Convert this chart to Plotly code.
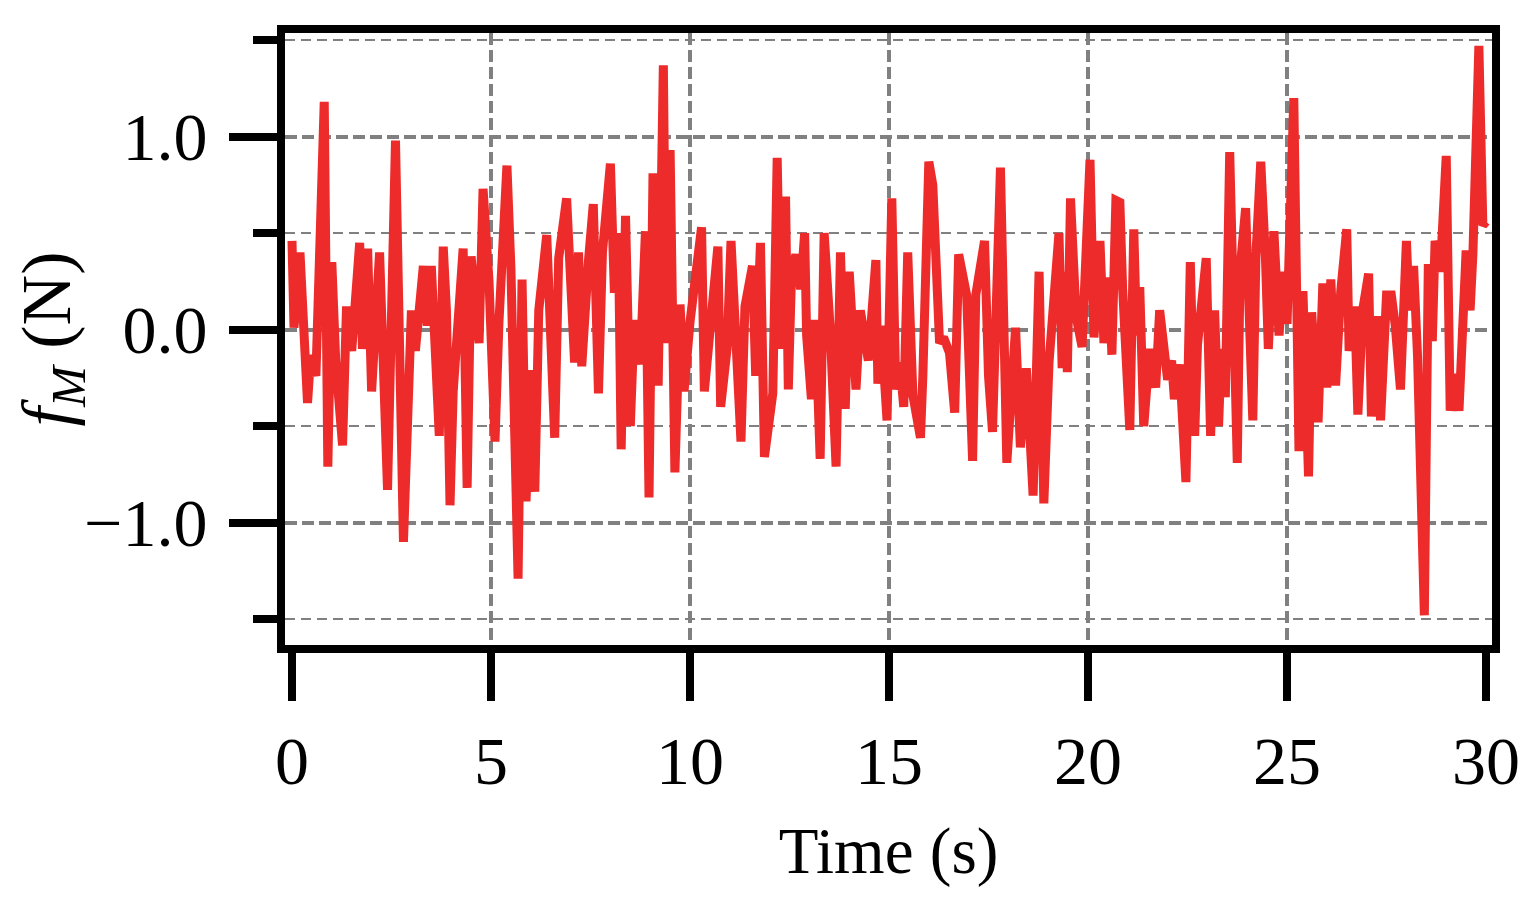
import plotly.graph_objects as go

# values (peaks / troughs and a few in-between points)
time_s = [
    0.00, 0.05, 0.20, 0.30, 0.39, 0.47, 0.60, 0.81, 0.90, 1.00, 1.10, 1.27, 1.37, 1.50, 1.70, 1.77, 1.90, 2.00, 2.20, 2.40,
    2.60, 2.80, 3.00, 3.10, 3.20, 3.30, 3.40, 3.50, 3.70, 3.80, 3.88, 3.97, 4.05, 4.30, 4.40, 4.50, 4.70, 4.80, 4.95, 5.10,
    5.20, 5.40, 5.50, 5.68, 5.78, 5.88, 6.00, 6.10, 6.20, 6.40, 6.60, 6.70, 6.90, 7.10, 7.20, 7.28, 7.45, 7.57, 7.70, 7.80,
    8.00, 8.10, 8.20, 8.27, 8.38, 8.50, 8.60, 8.75, 8.88, 8.97, 9.07, 9.20, 9.33, 9.40, 9.50, 9.62, 9.75, 9.85, 10.00, 10.29,
    10.36, 10.51, 10.70, 10.77, 10.93, 11.03, 11.28, 11.38, 11.57, 11.65, 11.77, 11.87, 12.08, 12.19, 12.28, 12.40, 12.47, 12.55, 12.66, 12.78,
    12.88, 12.93, 13.05, 13.15, 13.27, 13.37, 13.52, 13.67, 13.78, 13.90, 14.00, 14.17, 14.28, 14.48, 14.67, 14.72, 14.80, 14.95, 15.07, 15.17,
    15.27, 15.37, 15.47, 15.60, 15.79, 15.85, 16.00, 16.10, 16.20, 16.27, 16.37, 16.45, 16.52, 16.65, 16.75, 16.95, 17.10, 17.18, 17.40, 17.50,
    17.60, 17.80, 17.87, 17.96, 18.18, 18.30, 18.45, 18.62, 18.77, 18.89, 19.02, 19.10, 19.27, 19.35, 19.42, 19.48, 19.56, 19.70, 19.85, 20.05,
    20.15, 20.30, 20.40, 20.52, 20.60, 20.70, 20.80, 20.87, 21.05, 21.15, 21.22, 21.30, 21.40, 21.55, 21.70, 21.80, 22.00, 22.10, 22.17, 22.30,
    22.46, 22.57, 22.68, 22.75, 22.97, 23.08, 23.18, 23.28, 23.35, 23.45, 23.56, 23.75, 23.82, 23.96, 24.14, 24.22, 24.34, 24.46, 24.53, 24.67,
    24.80, 24.90, 25.00, 25.17, 25.30, 25.40, 25.54, 25.62, 25.72, 25.78, 25.90, 26.00, 26.10, 26.22, 26.35, 26.50, 26.56, 26.70, 26.78, 26.90,
    27.05, 27.12, 27.25, 27.35, 27.50, 27.62, 27.72, 27.85, 28.00, 28.07, 28.18, 28.28, 28.45, 28.55, 28.65, 28.72, 28.85, 29.00, 29.10, 29.22,
    29.32, 29.50, 29.60, 29.67, 29.82, 29.92, 30.00,
]
f_m = [
    0.46, 0.01, 0.40, 0.05, -0.38, -0.13, -0.24, 1.18, -0.71, 0.35, -0.17, -0.60, 0.12, -0.11, 0.45, -0.10, 0.42, -0.32, 0.40, -0.83,
    0.98, -1.10, 0.10, -0.11, 0.15, 0.33, 0.02, 0.33, -0.55, 0.43, 0.10, -0.91, -0.32, 0.42, -0.82, 0.38, -0.07, 0.73, 0.25, -0.58,
    0.04, 0.85, 0.32, -1.29, 0.26, -0.89, -0.21, -0.84, 0.10, 0.49, -0.56, 0.37, 0.68, -0.17, 0.40, -0.19, 0.36, 0.65, -0.33, 0.40,
    0.86, 0.19, 0.50, -0.62, 0.59, -0.50, 0.05, -0.18, 0.51, -0.87, 0.81, -0.29, 1.37, -0.07, 0.93, -0.74, 0.13, -0.32, 0.04, 0.53,
    -0.32, 0.00, 0.43, -0.40, -0.10, 0.46, -0.58, 0.12, 0.33, -0.24, 0.45, -0.66, -0.33, 0.89, -0.10, 0.69, -0.31, 0.28, 0.39, 0.21,
    0.50, -0.03, -0.36, 0.05, -0.67, 0.50, 0.01, -0.71, 0.40, -0.41, 0.30, -0.31, 0.10, -0.16, 0.36, -0.28, 0.02, -0.47, 0.68, -0.31,
    -0.17, -0.40, 0.40, -0.34, -0.56, -0.24, 0.87, 0.75, 0.16, -0.07, -0.04, -0.08, -0.12, -0.43, 0.39, 0.18, -0.68, 0.18, 0.46, -0.24,
    -0.53, 0.84, -0.09, -0.69, 0.01, -0.61, -0.20, -0.86, 0.30, -0.90, -0.17, 0.07, 0.50, -0.20, 0.30, -0.22, 0.68, 0.07, -0.09, 0.88,
    -0.04, 0.46, -0.07, 0.27, -0.13, 0.67, 0.66, 0.21, -0.52, 0.52, -0.03, 0.22, -0.50, -0.10, -0.30, 0.10, -0.26, -0.16, -0.36, -0.18,
    -0.79, 0.35, -0.55, -0.08, 0.37, -0.55, 0.10, -0.50, -0.10, -0.35, 0.92, -0.69, 0.31, 0.63, -0.47, 0.39, 0.87, 0.36, -0.10, 0.51,
    -0.03, 0.30, 0.03, 1.20, -0.63, 0.20, -0.76, 0.09, -0.38, -0.48, 0.24, -0.30, 0.26, -0.29, 0.20, 0.52, -0.11, 0.12, -0.44, 0.10,
    0.29, -0.45, 0.07, -0.47, 0.18, 0.18, 0.02, -0.31, 0.46, 0.10, 0.33, -0.14, -1.48, 0.34, -0.06, 0.46, 0.30, 0.90, -0.42, -0.23,
    -0.42, 0.41, 0.10, 0.39, 1.47, 0.54, 0.56,
]

x_ticks = [0, 5, 10, 15, 20, 25, 30]
x_grid = [5, 10, 15, 20, 25]
y_ticks = [-1.0, 0.0, 1.0]
y_minor = [-1.5, -0.5, 0.5, 1.5]

serif = "Liberation Serif"
grid_gray = "#808080"

fig = go.Figure()
fig.add_trace(go.Scatter(
    x=time_s, y=f_m, mode="lines", line=dict(color="#ee2b2b", width=9),
    showlegend=False, hoverinfo="skip",
))

# page body adds an 8px margin, so the figure is 8px smaller than the window
fig.update_layout(
    width=1525, height=901,
    margin=dict(l=277, r=41, t=25, b=264),
    paper_bgcolor="white", plot_bgcolor="white",
    font=dict(family=serif, size=68, color="black"),
    xaxis=dict(
        range=[-0.176, 30.15], tickvals=x_ticks, ticks="outside", ticklen=48, tickwidth=8,
        tickcolor="black", showline=True, linewidth=8, linecolor="black", mirror=True,
        showgrid=False, zeroline=False, automargin=False, ticklabelstandoff=1,
        tickfont=dict(family=serif, size=68),
        # x grid only at the inner ticks, drawn through the minor grid
        minor=dict(tickvals=x_grid, ticks="", showgrid=True, gridcolor=grid_gray,
                   gridwidth=3.5, griddash="12px,5px"),
        title=dict(text="Time (s)", font=dict(family=serif, size=65), standoff=33),
    ),
    yaxis=dict(
        range=[-1.634, 1.537], tickvals=y_ticks, tickformat=".1f", ticks="outside",
        ticklen=48, tickwidth=8, tickcolor="black",
        showline=True, linewidth=8, linecolor="black", mirror=True,
        showgrid=True, gridcolor=grid_gray, gridwidth=3.5, griddash="12px,5px",
        zeroline=False, automargin=False, ticklabelstandoff=8,
        tickfont=dict(family=serif, size=68),
        minor=dict(tickvals=y_minor, ticks="outside", ticklen=24, tickwidth=8,
                   tickcolor="black", showgrid=True, gridcolor=grid_gray,
                   gridwidth=2, griddash="10px,6px"),
        title=dict(text="<i>f</i><sub><i>M</i></sub> (N)",
                   font=dict(family=serif, size=70), standoff=12),
    ),
)

fig.write_html("out.html")
